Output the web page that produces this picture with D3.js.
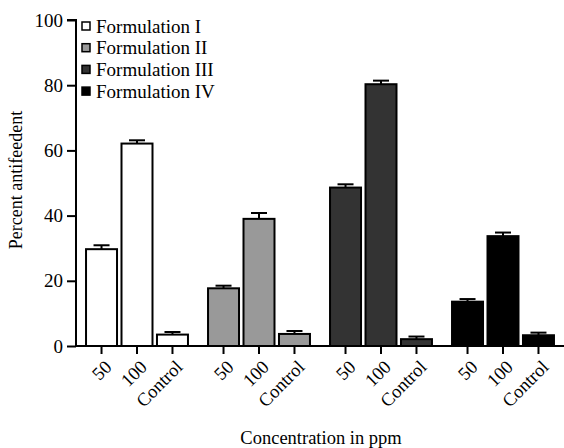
<!DOCTYPE html>
<html>
<head>
<meta charset="utf-8">
<script src="https://cdn.jsdelivr.net/npm/d3@7"></script>
<style>
  body { margin: 0; background: #fff; }
  svg { display: block; }
  text { font-family: "Liberation Serif", "Times New Roman", Times, serif; fill: #000; }
</style>
</head>
<body>
<svg></svg>
<script>
let formulations = ['Formulation I', 'Formulation II', 'Formulation III', 'Formulation IV'];
let doses = ['50', '100', 'Control'];
let colors = ['#ffffff', '#999999', '#333333', '#000000'];
// mean percent antifeedent per formulation, in the order of doses
let means = [
  [29.7, 62.1, 3.5],
  [17.7, 39.0, 3.7],
  [48.6, 80.3, 2.1],
  [13.6, 33.7, 3.3]
];
let errs = [
  [1.2, 1.0, 0.8],
  [0.8, 1.8, 0.9],
  [1.0, 1.1, 0.8],
  [0.8, 1.1, 0.8]
];
let yTicks = [0, 20, 40, 60, 80, 100];

let w = 564;
let h = 448;
let padL = 76, padT = 20, padB = 346, padR = 564;
let serif = '"Liberation Serif", "Times New Roman", serif';

let svg = d3.select('svg').attr('width', w).attr('height', h);

let x0 = d3.scaleBand()
           .domain(formulations)
           .range([padL, padR])
           .paddingInner(0.148)
           .paddingOuter(0.074);

let x1 = d3.scaleBand()
           .domain(doses)
           .range([0, x0.bandwidth()])
           .paddingInner(0.07);

let y = d3.scaleLinear().domain([0, 100]).range([padB, padT]);

let rows = [];
formulations.forEach((f, i) => {
  doses.forEach((d, j) => {
    rows.push({f: f, d: d, v: means[i][j], e: errs[i][j], c: colors[i]});
  });
});

let cx = r => x0(r.f) + x1(r.d) + x1.bandwidth() / 2;

// error bars (upper only), drawn before bars
let eb = svg.append('g').selectAll('g').data(rows).enter().append('g')
            .attr('stroke', '#000').attr('stroke-width', 2);
eb.append('line')
  .attr('x1', cx).attr('x2', cx)
  .attr('y1', r => y(r.v))
  .attr('y2', r => y(r.v + r.e));
eb.append('line')
  .attr('x1', r => cx(r) - 8)
  .attr('x2', r => cx(r) + 8)
  .attr('y1', r => y(r.v + r.e))
  .attr('y2', r => y(r.v + r.e));

svg.append('g').selectAll('rect').data(rows).enter().append('rect')
   .attr('x', r => x0(r.f) + x1(r.d) + 1)
   .attr('width', x1.bandwidth() - 2)
   .attr('y', r => y(r.v))
   .attr('height', r => padB - y(r.v))
   .attr('fill', r => r.c)
   .attr('stroke', '#000')
   .attr('stroke-width', 2);

// y axis
let yAxis = d3.axisLeft(y).tickValues(yTicks).tickSize(9).tickPadding(4);
let gy = svg.append('g').attr('transform', 'translate(' + padL + ',0)').call(yAxis)
            .attr('font-family', serif).attr('font-size', 19);
gy.select('.domain').attr('stroke-width', 2).attr('d', 'M-9,' + padT + 'H0V' + padB);
gy.selectAll('.tick line').attr('stroke-width', 2);
gy.selectAll('text').attr('fill', '#000');

// x axis: one tick per bar
let gx = svg.append('g').attr('transform', 'translate(0,' + padB + ')')
            .attr('font-family', serif).attr('font-size', 18.5);
gx.append('line').attr('x1', padL).attr('x2', padR).attr('stroke', '#000').attr('stroke-width', 2);
let xt = gx.selectAll('g.xtick').data(rows).enter().append('g')
           .attr('class', 'xtick')
           .attr('transform', r => 'translate(' + cx(r) + ',0)');
xt.append('line').attr('y2', 8).attr('stroke', '#000').attr('stroke-width', 2);
xt.append('g')
  .attr('transform', 'translate(2,13)')
  .append('text')
  .attr('transform', 'rotate(-45)')
  .attr('text-anchor', 'end')
  .attr('dy', '0.7em')
  .text(r => r.d);

// axis titles
svg.append('text')
   .attr('transform', 'translate(22,180) rotate(-90)')
   .attr('text-anchor', 'middle')
   .attr('font-family', serif)
   .attr('font-size', 18)
   .text('Percent antifeedent');
svg.append('text')
   .attr('x', 321).attr('y', 444)
   .attr('text-anchor', 'middle')
   .attr('font-family', serif)
   .attr('font-size', 18.5)
   .text('Concentration in ppm');

// legend
let lg = svg.append('g').selectAll('g').data(formulations).enter().append('g')
            .attr('transform', (f, i) => 'translate(82,' + (22 + i * 21.7) + ')');
lg.append('rect').attr('width', 8).attr('height', 8)
  .attr('fill', (f, i) => colors[i]).attr('stroke', '#000').attr('stroke-width', 1.5);
lg.append('text').attr('x', 14).attr('y', 10.5)
  .attr('font-family', serif).attr('font-size', 19).text(f => f);
</script>
</body>
</html>
